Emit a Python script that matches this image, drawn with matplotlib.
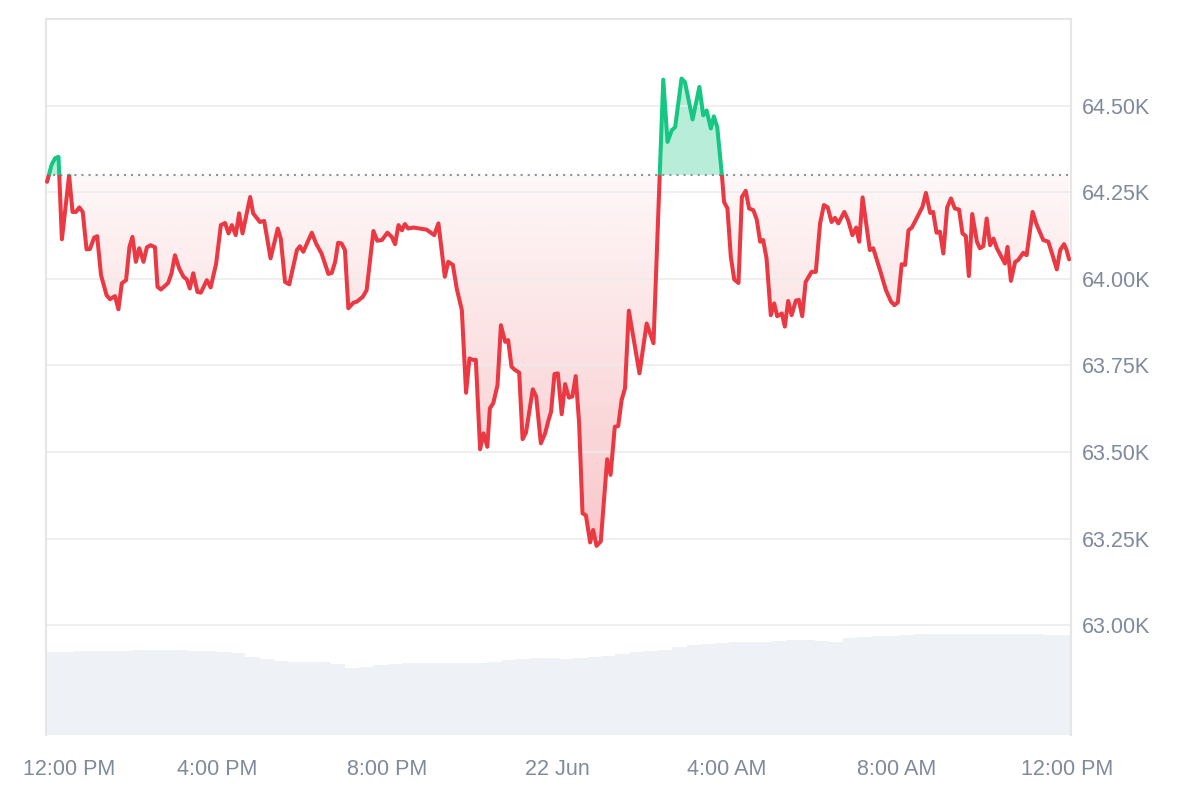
import numpy as np
import matplotlib.pyplot as plt
import matplotlib.transforms as mtransforms
from matplotlib.patches import Rectangle
from matplotlib.path import Path
from matplotlib.colors import to_rgb

plt.rcParams['font.family'] = ['Liberation Sans', 'DejaVu Sans']

# price, hours after 12:00 PM on 21 Jun
times = [0.00, 0.11, 0.19, 0.27, 0.35, 0.52, 0.60, 0.68, 0.76, 0.84, 0.93, 1.01, 1.11, 1.18,
         1.27, 1.40, 1.48, 1.60, 1.68, 1.76, 1.86, 1.94, 2.01, 2.09, 2.17, 2.27, 2.35, 2.44,
         2.54, 2.60, 2.68, 2.85, 2.93, 3.01, 3.11, 3.21, 3.29, 3.36, 3.44, 3.54, 3.62, 3.76,
         3.85, 3.98, 4.09, 4.19, 4.27, 4.35, 4.44, 4.52, 4.60, 4.78, 4.85, 5.01, 5.11, 5.26,
         5.43, 5.50, 5.60, 5.70, 5.88, 5.95, 6.03, 6.23, 6.33, 6.46, 6.62, 6.70, 6.78, 6.85,
         6.93, 7.01, 7.09, 7.21, 7.29, 7.43, 7.52, 7.68, 7.77, 7.88, 8.01, 8.11, 8.19, 8.27,
         8.35, 8.42, 8.50, 8.62, 8.78, 8.93, 9.11, 9.21, 9.36, 9.44, 9.55, 9.64, 9.76, 9.86,
         9.94, 10.02, 10.09, 10.19, 10.27, 10.36, 10.42, 10.50, 10.60, 10.68, 10.78, 10.85,
         10.93, 11.01, 11.11, 11.19, 11.27, 11.43, 11.51, 11.62, 11.72, 11.80, 11.86, 11.94,
         12.02, 12.11, 12.19, 12.28, 12.36, 12.44, 12.52, 12.60, 12.68, 12.78, 12.85, 12.93,
         13.03, 13.18, 13.26, 13.36, 13.44, 13.52, 13.60, 13.69, 13.94, 14.11, 14.27, 14.50,
         14.60, 14.70, 14.78, 14.93, 15.01, 15.19, 15.35, 15.44, 15.52, 15.62, 15.69, 15.77,
         15.88, 15.93, 16.01, 16.09, 16.17, 16.27, 16.35, 16.44, 16.52, 16.62, 16.70, 16.78,
         16.85, 16.93, 17.03, 17.11, 17.18, 17.29, 17.36, 17.44, 17.52, 17.62, 17.69, 17.77,
         17.85, 17.99, 18.09, 18.19, 18.28, 18.37, 18.46, 18.54, 18.62, 18.76, 18.85, 18.95,
         19.04, 19.11, 19.19, 19.36, 19.44, 19.60, 19.74, 19.86, 19.94, 20.02, 20.11, 20.19,
         20.27, 20.35, 20.46, 20.60, 20.68, 20.78, 20.85, 20.93, 21.01, 21.09, 21.18, 21.27,
         21.36, 21.46, 21.54, 21.62, 21.69, 21.77, 21.88, 21.95, 22.03, 22.11, 22.19, 22.27,
         22.35, 22.54, 22.60, 22.68, 22.78, 22.85, 22.97, 23.05, 23.19, 23.29, 23.44, 23.56,
         23.66, 23.76, 23.84, 23.93, 23.99, 24.05]
prices = [64280, 64330, 64348, 64352, 64114, 64298, 64193, 64193, 64206, 64193, 64085, 64086,
          64119, 64123, 64011, 63953, 63941, 63950, 63912, 63987, 63996, 64092, 64121, 64049,
          64088, 64049, 64091, 64097, 64091, 63977, 63969, 63988, 64016, 64068, 64030, 64006,
          63998, 63972, 64016, 63962, 63960, 63996, 63975, 64044, 64155, 64161, 64131, 64155,
          64126, 64189, 64131, 64236, 64189, 64164, 64167, 64059, 64145, 64116, 63991, 63984,
          64083, 64094, 64078, 64133, 64102, 64073, 64014, 64017, 64049, 64104, 64102, 64083,
          63915, 63931, 63934, 63948, 63967, 64138, 64110, 64112, 64133, 64121, 64100, 64155,
          64140, 64158, 64145, 64148, 64145, 64142, 64126, 64160, 64006, 64049, 64040, 63972,
          63910, 63671, 63770, 63766, 63766, 63508, 63554, 63515, 63626, 63641, 63693, 63866,
          63818, 63823, 63746, 63737, 63729, 63537, 63556, 63681, 63660, 63525, 63554, 63592,
          63616, 63725, 63727, 63609, 63696, 63657, 63660, 63719, 63583, 63323, 63317, 63239,
          63275, 63229, 63242, 63479, 63434, 63573, 63575, 63650, 63684, 63908, 63727, 63871,
          63814, 64575, 64395, 64429, 64438, 64578, 64568, 64460, 64554, 64472, 64486, 64434,
          64469, 64438, 64299, 64222, 64203, 64063, 63998, 63988, 64236, 64254, 64203, 64198,
          64171, 64107, 64112, 64059, 63895, 63929, 63892, 63900, 63862, 63936, 63895, 63937,
          63939, 63892, 63991, 64020, 64020, 64160, 64213, 64206, 64164, 64176, 64160, 64193,
          64169, 64126, 64148, 64107, 64235, 64083, 64088, 64025, 63967, 63934, 63924, 63932,
          64042, 64040, 64140, 64148, 64174, 64208, 64248, 64190, 64193, 64133, 64136, 64073,
          64206, 64232, 64203, 64200, 64131, 64123, 64008, 64187, 64107, 64088, 64094, 64174,
          64097, 64116, 64088, 64044, 64092, 63994, 64049, 64054, 64075, 64068, 64193, 64155,
          64112, 64107, 64068, 64027, 64083, 64100, 64083, 64056]
open_price = 64300

# 24h volume (billions), one value per 20 minutes
volume = [16.6, 16.6, 16.8, 16.8, 16.8, 16.8, 17.0, 17.0, 17.0, 17.0, 16.8, 16.8,
          16.6, 16.4, 15.6, 15.2, 14.8, 14.6, 14.6, 14.6, 14.2, 13.4, 13.6, 14.0,
          14.2, 14.4, 14.4, 14.4, 14.4, 14.4, 14.4, 14.6, 15.0, 15.2, 15.4, 15.4,
          15.2, 15.4, 15.6, 15.8, 16.2, 16.6, 16.8, 17.0, 17.6, 18.0, 18.2, 18.4,
          18.6, 18.6, 18.6, 18.8, 19.0, 19.0, 18.8, 18.6, 19.4, 19.6, 19.8, 19.8,
          20.0, 20.2, 20.2, 20.2, 20.2, 20.2, 20.2, 20.2, 20.2, 20.2, 20.0, 20.0]

xtick_pos = [0, 4, 8, 12, 16, 20, 24]
xtick_labels = ['12:00 PM', '4:00 PM', '8:00 PM', '22 Jun', '4:00 AM', '8:00 AM', '12:00 PM']
ytick_pos = [63000, 63250, 63500, 63750, 64000, 64250, 64500]

red = '#ea3943'
green = '#16c784'
txt = '#808a9d'

t = np.array(times)
p = np.array(prices)
x_lo, x_hi = -0.024, 24.094
y_lo, y_hi = 62683, 64750

fig = plt.figure(figsize=(12, 8), dpi=100)
rect = [46 / 1200, 65 / 800, 1025 / 1200, 716 / 800]

# volume bars underneath
ax_vol = fig.add_axes(rect)
edges = np.linspace(x_lo, x_hi, len(volume) + 1)
ax_vol.bar(edges[:-1], volume, width=np.diff(edges), align='edge', color='#eef1f5', linewidth=0)
ax_vol.set_xlim(x_lo, x_hi)
ax_vol.set_ylim(0, 143.2)
ax_vol.axis('off')

ax = fig.add_axes(rect)
ax.patch.set_visible(False)

# red gradient fill below the open price
fb = ax.fill_between(t, p, open_price, where=p < open_price, interpolate=True,
                     facecolor='none', edgecolor='none')
clip = Path.make_compound_path(*fb.get_paths())
grad = np.zeros((256, 1, 4))
grad[..., :3] = to_rgb(red)
grad[:, 0, 3] = np.linspace(0.04, 0.28, 256)
im = ax.imshow(grad, extent=[x_lo, x_hi, p.min(), open_price], aspect='auto',
               origin='upper', zorder=1, interpolation='bilinear')
im.set_clip_path(clip, transform=ax.transData)

# green fill above
ax.fill_between(t, p, open_price, where=p > open_price, interpolate=True,
                color=green, alpha=0.3, linewidth=0, zorder=1)

ax.axhline(open_price, color='#8d939c', linestyle=(0, (1, 2.4)), linewidth=1.5, zorder=2)

for c, y0, h in [(green, open_price, 5000), (red, open_price - 5000, 5000)]:
    ln, = ax.plot(t, p, color=c, linewidth=2.9, solid_joinstyle='round',
                  solid_capstyle='round', zorder=3)
    ln.set_clip_path(Rectangle((-5, y0), 40, h, transform=ax.transData))

ax.set_xlim(x_lo, x_hi)
ax.set_ylim(y_lo, y_hi)

ax.set_yticks(ytick_pos)
ax.set_yticklabels([f'{v / 1000:.2f}K' for v in ytick_pos])
ax.yaxis.tick_right()
ax.tick_params(axis='y', length=0, pad=8, labelsize=15.5, labelcolor=txt)
ax.set_xticks(xtick_pos)
ax.set_xticklabels(xtick_labels)
ax.tick_params(axis='x', length=0, pad=17, labelsize=15.5, labelcolor=txt)
ax.grid(axis='y', color='#ececec', linewidth=1.2, zorder=0)

lab0 = ax.get_xticklabels()[0]
lab0.set_transform(lab0.get_transform() + mtransforms.ScaledTranslation(0.22, 0, fig.dpi_scale_trans))

for s in ['top', 'left', 'right']:
    ax.spines[s].set_color('#e6e6e6')
    ax.spines[s].set_linewidth(1.5)
ax.spines['bottom'].set_visible(False)

fig.savefig('out.png', dpi=100)
